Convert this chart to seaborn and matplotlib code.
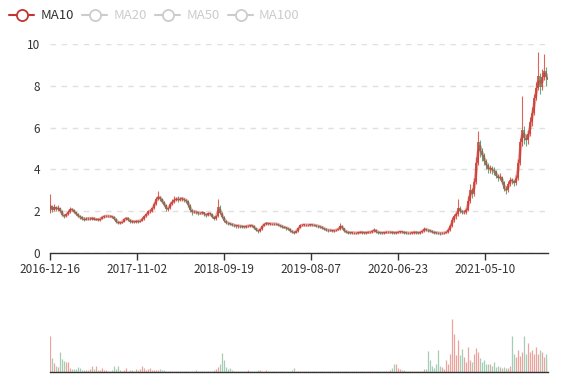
import numpy as np
import pandas as pd
import matplotlib
matplotlib.use("Agg")
import matplotlib.pyplot as plt
from matplotlib.lines import Line2D
import seaborn as sns

# weekly candles (price)
open_ = [
    2.0, 2.25, 2.05, 2.2, 2.1, 2.15, 2.0, 1.8, 1.75, 1.85,
    1.95, 2.1, 2.05, 1.95, 1.85, 1.75, 1.7, 1.65, 1.6, 1.65,
    1.62, 1.65, 1.68, 1.6, 1.62, 1.58, 1.65, 1.72, 1.75, 1.78,
    1.75, 1.75, 1.72, 1.65, 1.5, 1.45, 1.45, 1.5, 1.62, 1.68,
    1.6, 1.5, 1.52, 1.48, 1.55, 1.5, 1.55, 1.65, 1.75, 1.85,
    2.0, 2.0, 2.15, 2.35, 2.6, 2.7, 2.6, 2.45, 2.3, 2.1,
    2.15, 2.35, 2.45, 2.55, 2.6, 2.55, 2.6, 2.6, 2.55, 2.5,
    2.3, 2.05, 1.95, 1.98, 1.95, 1.9, 1.9, 1.95, 1.85, 1.8,
    1.9, 1.85, 1.72, 1.65, 1.75, 2.2, 1.9, 1.72, 1.55, 1.45,
    1.42, 1.38, 1.35, 1.32, 1.3, 1.3, 1.28, 1.26, 1.25, 1.28,
    1.3, 1.32, 1.3, 1.2, 1.1, 1.05, 1.15, 1.3, 1.4, 1.42,
    1.4, 1.4, 1.38, 1.4, 1.38, 1.35, 1.3, 1.25, 1.22, 1.2,
    1.15, 1.05, 1.0, 0.98, 1.05, 1.2, 1.32, 1.34, 1.35, 1.33,
    1.34, 1.35, 1.34, 1.33, 1.3, 1.28, 1.25, 1.2, 1.15, 1.1,
    1.08, 1.1, 1.05, 1.08, 1.1, 1.15, 1.3, 1.2, 1.05, 1.0,
    0.98, 0.97, 0.98, 0.95, 0.96, 0.97, 1.0, 0.98, 0.97, 0.98,
    0.99, 1.0, 1.05, 1.1, 1.02, 0.98, 0.97, 0.96, 0.98, 1.0,
    0.99, 1.0, 0.98, 0.97, 0.98, 1.0, 1.01, 1.0, 0.98, 0.97,
    0.95, 0.96, 0.98, 1.0, 0.98, 0.96, 1.0, 1.05, 1.15, 1.1,
    1.08, 1.05, 1.0, 0.98, 0.97, 0.95, 0.94, 0.95, 0.97, 1.0,
    1.1, 1.3, 1.6, 1.75, 1.85, 2.15, 2.0, 1.95, 1.95, 2.05,
    2.5, 3.0, 2.8, 3.4, 4.3, 5.3, 4.9, 4.7, 4.4, 4.2,
    4.0, 4.05, 3.95, 3.9, 3.7, 3.6, 3.65, 3.4, 3.05, 3.0,
    3.3, 3.5, 3.45, 3.35, 3.6, 4.3, 5.3, 5.9, 5.5, 5.4,
    5.7, 6.25, 6.7, 7.4, 7.9, 8.45, 7.95, 8.4, 8.7, 8.4,
]
close = [
    2.25, 2.05, 2.2, 2.1, 2.15, 2.0, 1.8, 1.75, 1.85, 1.95,
    2.1, 2.05, 1.95, 1.85, 1.75, 1.7, 1.65, 1.6, 1.65, 1.62,
    1.65, 1.68, 1.6, 1.62, 1.58, 1.65, 1.72, 1.75, 1.78, 1.75,
    1.75, 1.72, 1.65, 1.5, 1.45, 1.45, 1.5, 1.62, 1.68, 1.6,
    1.5, 1.52, 1.48, 1.55, 1.5, 1.55, 1.65, 1.75, 1.85, 2.0,
    2.0, 2.15, 2.35, 2.6, 2.7, 2.6, 2.45, 2.3, 2.1, 2.15,
    2.35, 2.45, 2.55, 2.6, 2.55, 2.6, 2.6, 2.55, 2.5, 2.3,
    2.05, 1.95, 1.98, 1.95, 1.9, 1.9, 1.95, 1.85, 1.8, 1.9,
    1.85, 1.72, 1.65, 1.75, 2.2, 1.9, 1.72, 1.55, 1.45, 1.42,
    1.38, 1.35, 1.32, 1.3, 1.3, 1.28, 1.26, 1.25, 1.28, 1.3,
    1.32, 1.3, 1.2, 1.1, 1.05, 1.15, 1.3, 1.4, 1.42, 1.4,
    1.4, 1.38, 1.4, 1.38, 1.35, 1.3, 1.25, 1.22, 1.2, 1.15,
    1.05, 1.0, 0.98, 1.05, 1.2, 1.32, 1.34, 1.35, 1.33, 1.34,
    1.35, 1.34, 1.33, 1.3, 1.28, 1.25, 1.2, 1.15, 1.1, 1.08,
    1.1, 1.05, 1.08, 1.1, 1.15, 1.3, 1.2, 1.05, 1.0, 0.98,
    0.97, 0.98, 0.95, 0.96, 0.97, 1.0, 0.98, 0.97, 0.98, 0.99,
    1.0, 1.05, 1.1, 1.02, 0.98, 0.97, 0.96, 0.98, 1.0, 0.99,
    1.0, 0.98, 0.97, 0.98, 1.0, 1.01, 1.0, 0.98, 0.97, 0.95,
    0.96, 0.98, 1.0, 0.98, 0.96, 1.0, 1.05, 1.15, 1.1, 1.08,
    1.05, 1.0, 0.98, 0.97, 0.95, 0.94, 0.95, 0.97, 1.0, 1.1,
    1.3, 1.6, 1.75, 1.85, 2.15, 2.0, 1.95, 1.95, 2.05, 2.5,
    3.0, 2.8, 3.4, 4.3, 5.3, 4.9, 4.7, 4.4, 4.2, 4.0,
    4.05, 3.95, 3.9, 3.7, 3.6, 3.65, 3.4, 3.05, 3.0, 3.3,
    3.5, 3.45, 3.35, 3.6, 4.3, 5.3, 5.9, 5.5, 5.4, 5.7,
    6.25, 6.7, 7.4, 7.9, 8.45, 7.95, 8.4, 8.7, 8.4, 8.3,
]
high = [
    2.8, 2.3, 2.35, 2.25, 2.3, 2.2, 2.05, 1.85, 1.92, 2.05,
    2.18, 2.15, 2.1, 1.98, 1.9, 1.8, 1.75, 1.7, 1.7, 1.7,
    1.7, 1.72, 1.72, 1.66, 1.66, 1.68, 1.76, 1.8, 1.82, 1.8,
    1.8, 1.78, 1.75, 1.68, 1.55, 1.5, 1.55, 1.66, 1.72, 1.7,
    1.62, 1.56, 1.55, 1.58, 1.58, 1.6, 1.7, 1.8, 1.9, 2.05,
    2.1, 2.2, 2.42, 2.68, 2.95, 2.75, 2.65, 2.5, 2.35, 2.2,
    2.45, 2.6, 2.75, 2.7, 2.75, 2.68, 2.7, 2.65, 2.6, 2.52,
    2.35, 2.1, 2.05, 2.02, 1.98, 1.95, 2.0, 1.98, 1.88, 1.95,
    1.95, 1.9, 1.78, 1.8, 2.6, 2.3, 1.95, 1.75, 1.58, 1.5,
    1.45, 1.42, 1.38, 1.36, 1.34, 1.34, 1.32, 1.3, 1.32, 1.34,
    1.36, 1.36, 1.32, 1.22, 1.12, 1.2, 1.35, 1.45, 1.47, 1.45,
    1.45, 1.43, 1.44, 1.43, 1.4, 1.36, 1.32, 1.28, 1.25, 1.22,
    1.18, 1.08, 1.04, 1.1, 1.25, 1.38, 1.4, 1.4, 1.38, 1.38,
    1.4, 1.38, 1.38, 1.36, 1.33, 1.3, 1.27, 1.22, 1.18, 1.13,
    1.15, 1.12, 1.12, 1.15, 1.2, 1.45, 1.32, 1.22, 1.08, 1.03,
    1.02, 1.02, 1.0, 1.0, 1.02, 1.05, 1.04, 1.02, 1.02, 1.03,
    1.04, 1.12, 1.18, 1.14, 1.05, 1.02, 1.0, 1.02, 1.05, 1.04,
    1.05, 1.04, 1.02, 1.02, 1.05, 1.06, 1.06, 1.04, 1.02, 1.0,
    1.0, 1.02, 1.05, 1.04, 1.02, 1.05, 1.1, 1.25, 1.2, 1.14,
    1.1, 1.08, 1.04, 1.02, 1.0, 0.99, 1.0, 1.02, 1.06, 1.2,
    1.4, 1.7, 1.85, 1.95, 2.6, 2.25, 2.08, 2.05, 2.15, 2.75,
    3.3, 3.1, 3.6, 4.6, 5.85, 5.4, 5.0, 4.8, 4.5, 4.3,
    4.2, 4.15, 4.1, 3.95, 3.8, 3.85, 3.7, 3.45, 3.2, 3.45,
    3.65, 3.6, 3.5, 3.75, 4.5, 5.5, 7.5, 6.1, 5.7, 5.9,
    6.5, 7.0, 7.6, 8.2, 9.6, 8.6, 8.8, 9.5, 8.9, 8.6,
]
low = [
    1.9, 1.95, 2.0, 2.0, 2.0, 1.95, 1.75, 1.68, 1.72, 1.82,
    1.9, 2.0, 1.9, 1.8, 1.7, 1.65, 1.6, 1.55, 1.57, 1.58,
    1.58, 1.6, 1.56, 1.56, 1.54, 1.55, 1.62, 1.68, 1.72, 1.7,
    1.7, 1.68, 1.6, 1.45, 1.4, 1.4, 1.42, 1.48, 1.58, 1.55,
    1.45, 1.42, 1.42, 1.45, 1.45, 1.48, 1.52, 1.6, 1.7, 1.82,
    1.92, 1.95, 2.1, 2.3, 2.55, 2.5, 2.4, 2.25, 2.0, 2.0,
    2.1, 2.3, 2.4, 2.5, 2.45, 2.5, 2.5, 2.45, 2.4, 2.2,
    1.95, 1.8, 1.9, 1.88, 1.82, 1.85, 1.85, 1.78, 1.72, 1.75,
    1.8, 1.68, 1.6, 1.6, 1.7, 1.85, 1.68, 1.5, 1.4, 1.36,
    1.32, 1.3, 1.25, 1.22, 1.2, 1.22, 1.18, 1.2, 1.22, 1.24,
    1.26, 1.25, 1.15, 1.05, 0.98, 1.02, 1.12, 1.28, 1.36, 1.35,
    1.35, 1.32, 1.34, 1.32, 1.28, 1.25, 1.2, 1.18, 1.12, 1.1,
    1.0, 0.95, 0.92, 0.95, 1.02, 1.18, 1.28, 1.3, 1.28, 1.28,
    1.3, 1.28, 1.27, 1.25, 1.22, 1.2, 1.15, 1.1, 1.05, 1.02,
    1.03, 1.0, 1.02, 1.04, 1.08, 1.12, 1.15, 1.0, 0.95, 0.92,
    0.92, 0.92, 0.9, 0.9, 0.92, 0.94, 0.93, 0.92, 0.93, 0.94,
    0.94, 0.95, 1.02, 0.98, 0.92, 0.9, 0.9, 0.92, 0.94, 0.94,
    0.94, 0.92, 0.92, 0.93, 0.94, 0.96, 0.95, 0.93, 0.92, 0.9,
    0.9, 0.91, 0.93, 0.93, 0.9, 0.92, 0.96, 1.02, 1.05, 1.02,
    1.0, 0.96, 0.93, 0.92, 0.9, 0.88, 0.89, 0.92, 0.94, 0.98,
    1.05, 1.25, 1.5, 1.65, 1.78, 1.9, 1.85, 1.85, 1.88, 2.0,
    2.4, 2.65, 2.75, 3.3, 4.2, 4.6, 4.4, 4.2, 4.0, 3.85,
    3.85, 3.8, 3.75, 3.6, 3.45, 3.5, 3.3, 2.95, 2.8, 2.9,
    3.2, 3.3, 3.2, 3.25, 3.5, 4.2, 5.1, 5.2, 5.1, 5.2,
    5.6, 6.1, 6.6, 7.3, 7.8, 7.6, 7.8, 8.3, 8.0, 7.9,
]
volume = [
    36, 14, 9, 6, 5, 20, 13, 11, 10, 10,
    4, 3, 3, 3, 5, 4, 2, 2, 2, 2,
    3, 6, 3, 6, 2, 2, 4, 2, 2, 1,
    1, 2, 6, 3, 6, 2, 1, 2, 4, 1,
    2, 2, 1, 3, 2, 3, 6, 4, 2, 3,
    4, 2, 2, 2, 2, 3, 2, 2, 1, 1,
    1, 1, 1, 1, 1, 1, 1, 1, 1, 1,
    1, 1, 1, 2, 1, 1, 1, 1, 1, 1,
    1, 1, 2, 3, 5, 8, 19, 12, 5, 3,
    4, 2, 1, 1, 1, 1, 1, 1, 1, 2,
    1, 1, 1, 1, 2, 2, 1, 1, 2, 1,
    1, 1, 1, 1, 1, 1, 1, 1, 1, 1,
    1, 2, 4, 1, 1, 1, 1, 1, 1, 1,
    1, 1, 1, 1, 1, 1, 1, 1, 1, 1,
    1, 1, 1, 1, 1, 1, 1, 1, 1, 1,
    1, 1, 1, 1, 1, 1, 1, 1, 1, 1,
    1, 1, 1, 1, 1, 1, 1, 1, 1, 1,
    2, 4, 8, 8, 4, 3, 2, 2, 1, 1,
    1, 1, 1, 1, 1, 1, 1, 3, 3, 21,
    12, 6, 4, 8, 22, 6, 5, 3, 12, 8,
    18, 53, 38, 17, 32, 17, 23, 15, 10, 25,
    12, 10, 18, 24, 20, 14, 10, 12, 8, 8,
    8, 6, 10, 5, 6, 5, 4, 5, 4, 4,
    6, 36, 18, 15, 22, 16, 20, 36, 18, 29,
    20, 22, 18, 25, 18, 22, 20, 15, 18, 14,
]
tick_labels = ["2016-12-16", "2017-11-02", "2018-09-19",
               "2019-08-07", "2020-06-23", "2021-05-10"]
legend_names = ["MA10", "MA20", "MA50", "MA100"]

sns.set_theme(style="white")
plt.rcParams["font.family"] = ["Noto Sans CJK SC", "DejaVu Sans"]

df = pd.DataFrame({"open": open_, "close": close, "high": high,
                   "low": low, "volume": volume})
df["idx"] = np.arange(len(df))
df["up"] = df["close"] >= df["open"]
# weekly candles -> 2 candles ~ 10 trading days
df["ma10"] = df["close"].rolling(2, min_periods=1).mean()

up_c = "#d9493d"
down_c = "#4e9a6c"
colors = np.where(df["up"], up_c, down_c)

fig = plt.figure(figsize=(5.77, 3.8), dpi=100)
ax = fig.add_axes([50 / 577, 1 - 253 / 380, 498 / 577, 209 / 380])
axv = fig.add_axes([50 / 577, 1 - 372 / 380, 498 / 577, 67 / 380])

# candles
ax.vlines(df["idx"], df["low"], df["high"], colors=colors, lw=0.8, alpha=0.85, zorder=2)
body_lo = df[["open", "close"]].min(axis=1)
body_h = (df["close"] - df["open"]).abs().clip(lower=0.03)
ax.bar(df["idx"], body_h, bottom=body_lo, width=0.65, color=colors,
       alpha=0.85, linewidth=0, zorder=2)
sns.lineplot(data=df, x="idx", y="ma10", ax=ax, color="#c23531", alpha=0.45,
             lw=2.2, legend=False, zorder=3)

ax.set_xlim(0, len(df) - 1)
ax.set_ylim(0, 10)
ax.set_yticks(np.arange(0, 11, 2))
ax.set_xticks(np.arange(len(tick_labels)) * 43.5)
ax.set_xticklabels(tick_labels)
ax.set_xlabel("")
ax.set_ylabel("")
ax.yaxis.grid(True, color="#e0e0e0", ls=(0, (4, 4)), lw=1)
ax.xaxis.grid(False)
for s in ["top", "right", "left"]:
    ax.spines[s].set_visible(False)
ax.spines["bottom"].set_color("#333333")
ax.spines["bottom"].set_linewidth(1)
ax.tick_params(axis="x", colors="#333333", length=5, width=1, pad=2,
               labelsize=8.5, direction="out")
ax.tick_params(axis="y", colors="#333333", length=0, pad=7, labelsize=8.5)
ax.xaxis.set_ticks_position("bottom")

# volume (thin bars drawn as vertical lines so they don't snap away)
axv.vlines(df["idx"], 0, df["volume"], colors=colors, lw=0.9, alpha=0.5)
axv.set_xlim(0, len(df) - 1)
axv.set_ylim(0, 67)
axv.set_xticks([])
axv.set_yticks([])
for s in ["top", "right", "left"]:
    axv.spines[s].set_visible(False)
axv.spines["bottom"].set_color("#333333")
axv.spines["bottom"].set_linewidth(1)

# legend (only MA10 shown, others toggled off)
leg_colors = ["#c23531", "#cccccc", "#cccccc", "#cccccc"]
handles = [Line2D([], [], color=c, lw=1.5, marker="o", markersize=8,
                  markerfacecolor="white", markeredgewidth=1.3) for c in leg_colors]
leg = fig.legend(handles, legend_names, loc="upper left", bbox_to_anchor=(0.0, 1.0),
                 ncol=4, frameon=False, fontsize=9.5, handlelength=1.9,
                 handletextpad=0.45, columnspacing=0.65, borderaxespad=0.3)
for t, c in zip(leg.get_texts(), ["#333333", "#cccccc", "#cccccc", "#cccccc"]):
    t.set_color(c)

fig.savefig("out.png", dpi=100)
